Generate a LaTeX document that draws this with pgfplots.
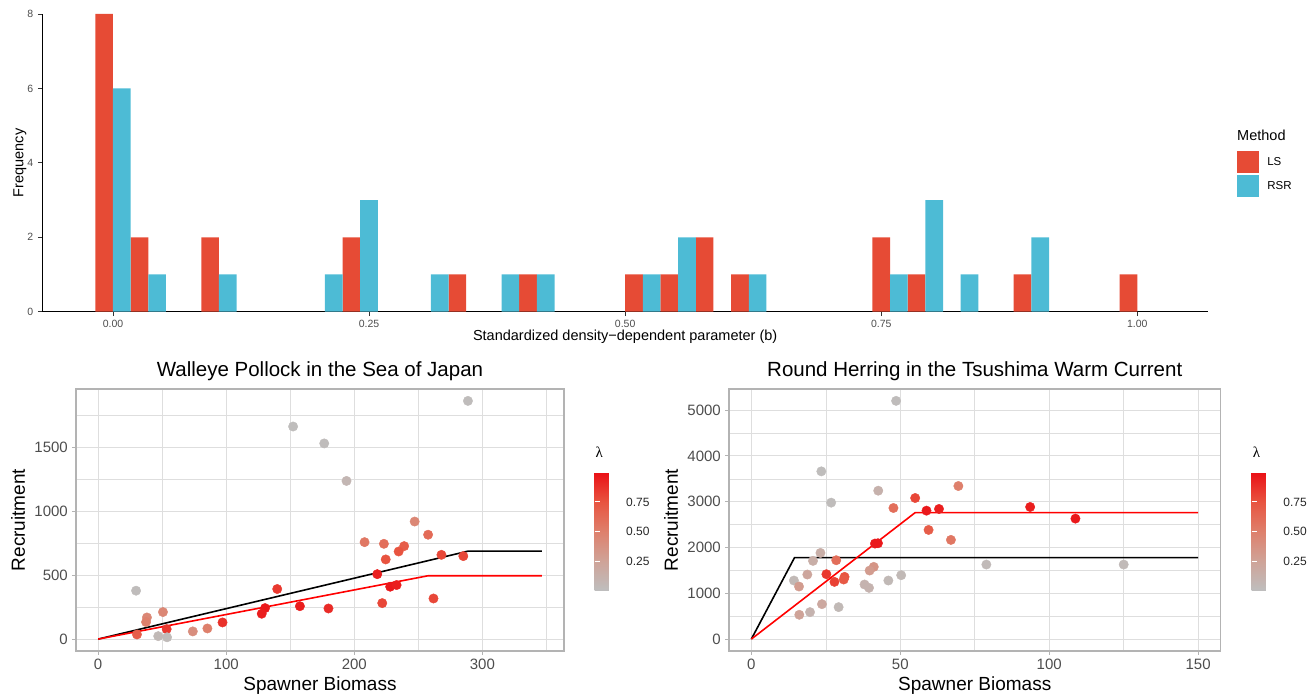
\documentclass[border=0pt]{standalone}
\usepackage{fontspec}
\setmainfont{Liberation Sans}
\newfontfamily\lamfont{Liberation Serif}
\usepackage{pgfplots}
\pgfplotsset{compat=1.18}

\definecolor{lsred}{RGB}{230,75,53}
\definecolor{rsrblue}{RGB}{77,187,213}
\definecolor{grey20}{RGB}{51,51,51}
\definecolor{grey30}{RGB}{77,77,77}
\definecolor{grey70}{RGB}{179,179,179}
\definecolor{grey87}{RGB}{222,222,222}

\pgfplotsset{
  colormap={lam}{rgb255=(190,190,190) rgb255=(207,163,152) rgb255=(222,128,108) rgb255=(232,84,64) rgb255=(234,16,22)},
  sqkey/.style={legend image code/.code={\fill[##1] (0pt,-10.85pt) rectangle (22.3pt,10.85pt);}},
  srpanel/.style={
    scale only axis, height=262pt,
    axis line style={grey70, line width=1.3pt},
    xmajorgrids, ymajorgrids, xminorgrids, yminorgrids,
    major grid style={grey87, line width=1pt},
    minor grid style={grey87, line width=0.55pt},
    tick align=outside, major tick length=4pt, minor tick length=0pt,
    tick style={grey70, line width=1pt},
    xtick pos=bottom, ytick pos=left,
    scaled ticks=false,
    /pgf/number format/assume math mode=true,
    /pgf/number format/1000 sep={},
    ticklabel style={font=\fontsize{15}{17}\selectfont, text=grey30, inner sep=4pt},
    title style={at={(axis description cs:0.5,1.0256)}, anchor=base, inner sep=0pt, font=\fontsize{20.5}{24}\selectfont},
    xlabel={Spawner Biomass},
    xlabel style={at={(axis description cs:0.5,-0.1489)}, anchor=base, inner sep=0pt, font=\fontsize{19}{22}\selectfont},
    ylabel={Recruitment},
    ylabel style={anchor=base, inner sep=0pt, font=\fontsize{19}{22}\selectfont},
    colormap name=lam, point meta min=0, point meta max=1,
    colorbar right,
  },
  lambar/.style={
    colorbar style={
      at={(parent axis.south east)}, anchor=south west, xshift=#1, yshift=60.3pt,
      scale only axis, width=25pt, height=118.4pt,
      axis line style={draw=none},
      xmajorgrids=false, ymajorgrids=false, xminorgrids=false, yminorgrids=false,
      xlabel={}, ylabel={},
      xtick=\empty,
      ytick={0.25,0.5,0.75}, yticklabels={0.25,0.50,0.75},
      ytick pos=both, yticklabel pos=right,
      tick align=inside, major tick length=5pt,
      ytick style={white, line width=1pt},
      yticklabel style={font=\fontsize{12}{14}\selectfont, text=black!85, inner sep=0pt, xshift=6.5pt},
      title={\lamfont λ},
      title style={at={(0,1)}, anchor=base west, xshift=1pt, yshift=9pt, inner sep=0pt, font=\fontsize{15}{17}\selectfont},
    },
  },
  lampts/.style={scatter, only marks, mark=*, mark size=4.7pt, point meta=explicit,
    scatter/use mapped color={draw=mapped color, fill=mapped color}},
}

\begin{document}
\begin{tikzpicture}
\useasboundingbox (0,0) rectangle (1307pt,695pt);

% ---------- histogram of b by method ----------
\begin{axis}[
  at={(42.3pt,383.3pt)}, anchor=south west,
  scale only axis, width=1165.7pt, height=297.7pt,
  xmin=-0.069, xmax=1.069, ymin=0, ymax=8,
  clip=false,
  axis x line*=bottom, axis y line*=left,
  axis line style={-, black, line width=1.1pt},
  xtick={0,0.25,0.5,0.75,1}, xticklabels={0.00,0.25,0.50,0.75,1.00},
  ytick={0,2,4,6,8},
  tick align=outside, major tick length=4.5pt,
  tick style={grey20, line width=0.8pt},
  /pgf/number format/assume math mode=true,
  xticklabel style={font=\fontsize{10.5}{12}\selectfont, text=grey30, inner sep=4pt},
  yticklabel style={font=\fontsize{10.5}{12}\selectfont, text=grey30, inner sep=4.5pt},
  xlabel={Standardized density−dependent parameter (b)},
  xlabel style={at={(axis description cs:0.5,-0.0984)}, anchor=base, inner sep=0pt, font=\fontsize{14.5}{17}\selectfont},
  ylabel={Frequency},
  ylabel style={at={(axis description cs:-0.0163,0.5)}, anchor=base, inner sep=0pt, font=\fontsize{14.5}{17}\selectfont},
  legend cell align=left,
  legend style={at={(1.0249,0.5398)}, anchor=north west, draw=none, fill=none,
    inner sep=0pt, outer sep=0pt, row sep=2.3pt, column sep=8pt,
    font=\fontsize{11.5}{13}\selectfont, nodes={inner sep=0pt}},
]
\addplot[ybar, bar width=0.017241, bar shift=0pt, fill=lsred, draw=none, sqkey] coordinates {
  (-0.008621,8) (0.025862,2) (0.094828,2) (0.232759,2) (0.336207,1) (0.405172,1)
  (0.508621,1) (0.543103,1) (0.577586,2) (0.612069,1) (0.750000,2) (0.784483,1)
  (0.887931,1) (0.991379,1)
};
\addlegendentry{LS}
\addplot[ybar, bar width=0.017241, bar shift=0pt, fill=rsrblue, draw=none, sqkey] coordinates {
  (0.008621,6) (0.043103,1) (0.112069,1) (0.215517,1) (0.250000,3) (0.318966,1)
  (0.387931,1) (0.422414,1) (0.525862,1) (0.560345,2) (0.629310,1) (0.767241,1)
  (0.801724,3) (0.836207,1) (0.905172,2)
};
\addlegendentry{RSR}
\node[anchor=base west, inner sep=0pt, font=\fontsize{14.5}{17}\selectfont] at (axis description cs:1.0249,0.5744) {Method};
\end{axis}

% ---------- Walleye pollock ----------
\begin{axis}[
  srpanel, lambar=22pt,
  at={(76pt,44pt)}, anchor=south west, width=488pt,
  xmin=-17.3, xmax=363.7, ymin=-93, ymax=1953,
  xtick={0,100,200,300}, minor xtick={50,150,250,350},
  ytick={0,500,1000,1500}, minor ytick={250,750,1250,1750},
  title={Walleye Pollock in the Sea of Japan},
  ylabel style={at={(axis description cs:-0.1045,0.5)}},
]
\addplot[black, line width=1.6pt] coordinates {(0,0) (288.7,686.6) (346.4,686.6)};
\addplot[red, line width=1.6pt] coordinates {(0,0) (257.6,494.6) (346.4,494.6)};
\addplot[lampts] coordinates {
  (288.7,1860) [0.02] (152.2,1660) [0.01] (176.5,1528) [0.02] (193.9,1235) [0.07]
  (247.1,918) [0.45] (257.6,815) [0.62] (208.0,757) [0.55] (223.1,744) [0.60]
  (238.9,726) [0.70] (234.6,684) [0.75] (224.5,622) [0.75] (268.0,658) [0.80]
  (285.1,648) [0.80] (217.9,507) [0.95] (228.0,409) [0.97] (233.0,422) [0.95]
  (261.8,317) [0.80] (221.8,281) [0.80] (139.8,391) [0.85] (130.3,242) [0.97]
  (127.7,198) [0.95] (157.5,257) [0.95] (179.8,239) [0.90] (97.1,130) [0.88]
  (85.3,83) [0.50] (73.9,60) [0.40] (50.6,211) [0.45] (38.1,169) [0.45]
  (37.4,133) [0.50] (53.5,78) [0.85] (30.3,36) [0.70] (29.6,378) [0.02]
  (46.9,23) [0.05] (53.8,14) [0.03]
};
\end{axis}

% ---------- Round herring ----------
\begin{axis}[
  srpanel, lambar=22.7pt,
  at={(729pt,44pt)}, anchor=south west, width=491.5pt,
  xmin=-7.5, xmax=157.5, ymin=-260, ymax=5462,
  xtick={0,50,100,150}, minor xtick={25,75,125},
  ytick={0,1000,2000,3000,4000,5000}, minor ytick={500,1500,2500,3500,4500},
  title={Round Herring in the Tsushima Warm Current},
  ylabel style={at={(axis description cs:-0.1038,0.5)}},
]
\addplot[black, line width=1.6pt] coordinates {(0,0) (14.5,1780) (150,1780)};
\addplot[red, line width=1.6pt] coordinates {(0,0) (55.0,2762) (150,2762)};
\addplot[lampts] coordinates {
  (48.6,5203) [0.02] (23.5,3663) [0.01] (26.8,2980) [0.02] (42.6,3241) [0.12]
  (69.5,3343) [0.50] (55.0,3081) [0.80] (47.7,2863) [0.60] (58.8,2805) [0.97]
  (63.0,2842) [0.95] (93.6,2885) [0.95] (108.8,2631) [0.97] (59.5,2384) [0.70]
  (67.0,2166) [0.55] (41.5,2086) [0.97] (42.5,2093) [0.97] (23.2,1882) [0.15]
  (20.7,1708) [0.15] (28.5,1722) [0.60] (78.9,1628) [0.04] (125.0,1628) [0.04]
  (18.8,1410) [0.22] (25.2,1417) [0.85] (14.3,1279) [0.05] (16.0,1148) [0.30]
  (27.9,1250) [0.82] (31.3,1359) [0.75] (31.0,1301) [0.72] (41.1,1577) [0.35]
  (39.7,1497) [0.30] (50.3,1395) [0.05] (46.0,1279) [0.05] (38.0,1192) [0.10]
  (39.5,1119) [0.10] (23.7,763) [0.20] (29.3,698) [0.05] (19.7,589) [0.10]
  (16.1,531) [0.25]
};
\end{axis}
\end{tikzpicture}
\end{document}
